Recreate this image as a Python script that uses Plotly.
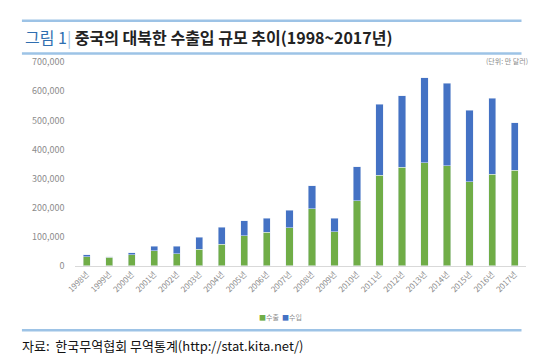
import plotly.graph_objects as go

years = ["1998년", "1999년", "2000년", "2001년", "2002년", "2003년", "2004년", "2005년", "2006년", "2007년",
         "2008년", "2009년", "2010년", "2011년", "2012년", "2013년", "2014년", "2015년", "2016년", "2017년"]
exports = [31000, 29000, 37000, 51000, 41000, 57000, 73000, 103000, 115000, 131000,
           196000, 116000, 223000, 311000, 339000, 355000, 344000, 289000, 315000, 328000]
totals = [37000, 31000, 44000, 67000, 67000, 97000, 132000, 155000, 164000, 191000,
          275000, 163000, 340000, 555000, 585000, 647000, 628000, 535000, 576000, 492000]
imports = [t - e for t, e in zip(totals, exports)]
series_names = ["수출", "수입"]

GREEN = "#70AD47"
BLUE = "#4472C4"
FONT = "Noto Sans CJK KR"
W, H = 540, 362

fig = go.Figure()
fig.add_trace(go.Bar(x=years, y=exports, name=series_names[0], marker_color=GREEN, showlegend=False, width=0.32))
fig.add_trace(go.Bar(x=years, y=imports, name=series_names[1], marker_color=BLUE, showlegend=False, width=0.32))

def py(p):
    return 1 - p / H

legend_text = (f"<span style='color:{GREEN}'>■</span>{series_names[0]}  "
               f"<span style='color:{BLUE}'>■</span>{series_names[1]}")

fig.update_layout(
    width=W, height=H,
    margin=dict(l=0, r=0, t=0, b=0),
    paper_bgcolor="white", plot_bgcolor="white",
    barmode="stack",
    showlegend=False,
    font=dict(family=FONT, color="#8c8c8c"),
    xaxis=dict(domain=[58.5 / W, 517.5 / W], tickangle=-45, tickfont=dict(size=8, color="#8c8c8c"),
               showline=True, linecolor="#d9d9d9", linewidth=1, ticks="", showgrid=False),
    yaxis=dict(domain=[py(260), py(49)], range=[0, 700000], dtick=100000, tickformat=",",
               tickfont=dict(size=9, color="#8c8c8c"), showgrid=False, zeroline=False,
               ticklabelstandoff=10),
    shapes=[
        dict(type="line", xref="paper", yref="paper", x0=4 / W, x1=513 / W, y0=py(6), y1=py(6),
             line=dict(color="#9DC3E6", width=2.5)),
        dict(type="line", xref="paper", yref="paper", x0=4 / W, x1=513 / W, y0=py(40), y1=py(40),
             line=dict(color="#9DC3E6", width=2.5)),
        dict(type="line", xref="paper", yref="paper", x0=4 / W, x1=513 / W, y0=py(327), y1=py(327),
             line=dict(color="#9DC3E6", width=2.5)),
    ],
    annotations=[
        dict(xref="paper", yref="paper", x=5 / W, y=py(23), xanchor="left", yanchor="middle",
             showarrow=False, font=dict(family=FONT, size=16, color="#222222"),
             text="<span style='color:#2F6EB0'>그림 1</span><span style='color:#9DC3E6'>|</span> "
                  "<b>중국의 대북한 수출입 규모 추이(1998~2017년)</b>"),
        dict(xref="paper", yref="paper", x=522 / W, y=py(48), xanchor="right", yanchor="middle",
             showarrow=False, font=dict(family=FONT, size=7, color="#8c8c8c"),
             text="(단위: 만 달러)"),
        dict(xref="paper", yref="paper", x=267 / W, y=py(313), xanchor="center", yanchor="middle",
             showarrow=False, font=dict(family=FONT, size=7, color="#8c8c8c"),
             text=legend_text),
        dict(xref="paper", yref="paper", x=2 / W, y=py(343), xanchor="left", yanchor="middle",
             showarrow=False, font=dict(family=FONT, size=13, color="#111111"),
             text="자료:  한국무역협회 무역통계(http://stat.kita.net/)"),
    ],
)

fig.write_html("out.html")
